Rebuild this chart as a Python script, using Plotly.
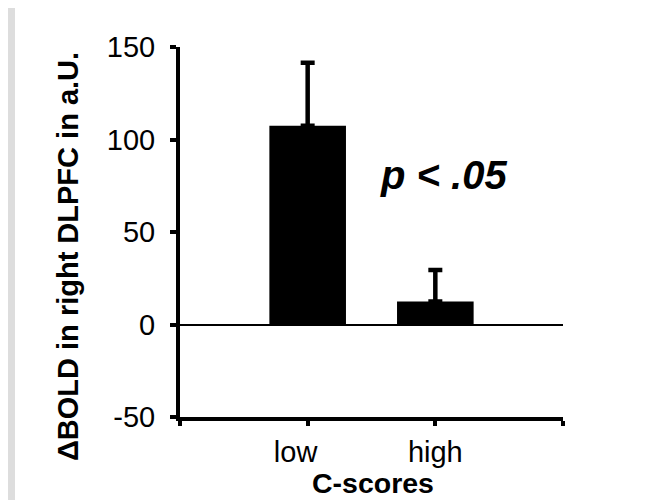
import plotly.graph_objects as go

categories = ["low\u00a0\u00a0\u00a0", "high"]
cat_pos = [1, 2]
values = [107.5, 12.5]
errors = [34, 17]
y_ticks = [-50, 0, 50, 100, 150]
y_tick_text = ["-50", "0", "50", "100", "150"]

FONT = "Liberation Sans, Arial, sans-serif"

fig = go.Figure()
fig.add_trace(go.Bar(
    x=cat_pos, y=values, width=0.6,
    marker=dict(color="black", line=dict(width=0)),
    error_y=dict(type="data", array=errors, arrayminus=[0, 0], symmetric=False,
                 color="black", thickness=4.5, width=7),
    showlegend=False,
))

# page body has an 8px margin; figure coords = reference coords - 8
OFF = 8
W, H = 647, 492
L, R, T, B = 180 - OFF, 655 - 563, 47 - OFF, 500 - 417
pw, ph = W - L - R, H - T - B


def px(x):
    return (x - OFF - L) / pw


def py(y):
    return (H - B - (y - OFF)) / ph


fig.update_layout(
    width=W, height=H,
    margin=dict(l=L, r=R, t=T, b=B, pad=0),
    paper_bgcolor="#dddddd",
    plot_bgcolor="rgba(0,0,0,0)",
    font=dict(family=FONT, size=29, color="black"),
    xaxis=dict(range=[0, 3], tickvals=[0, 1, 2, 3], ticktext=["", categories[0], categories[1], ""],
               showline=True, linecolor="black", linewidth=4, ticks="outside", ticklen=5,
               tickwidth=4, tickcolor="black", showgrid=False, zeroline=False,
               ticklabelstandoff=1, tickfont=dict(size=29)),
    yaxis=dict(range=[-50, 150], tickvals=y_ticks, ticktext=y_tick_text,
               showline=True, linecolor="black", linewidth=4,
               ticks="outside", ticklen=6, tickwidth=4, tickcolor="black", showgrid=False,
               zeroline=True, zerolinecolor="black", zerolinewidth=1.8,
               ticklabelstandoff=9, tickfont=dict(size=29)),
    shapes=[dict(type="rect", xref="paper", yref="paper", layer="below",
                 x0=px(15), x1=px(700), y0=py(560), y1=py(4),
                 fillcolor="white", line=dict(width=0))],
    annotations=[
        dict(text="<b>ΔBOLD in right DLPFC in a.U.</b>", xref="paper", yref="paper",
             x=px(68), y=py(257), textangle=-90, showarrow=False,
             font=dict(size=29, family=FONT), xanchor="center", yanchor="middle"),
        dict(text="<b>C-scores</b>", xref="paper", yref="paper",
             x=px(373), y=py(483), showarrow=False,
             font=dict(size=28.5, family=FONT), xanchor="center", yanchor="middle"),
        dict(text="<b><i>p &lt; .05</i></b>", xref="paper", yref="paper",
             x=px(443), y=py(175), showarrow=False,
             font=dict(size=40, family=FONT), xanchor="center", yanchor="middle"),
    ],
)

fig.write_html("out.html")
